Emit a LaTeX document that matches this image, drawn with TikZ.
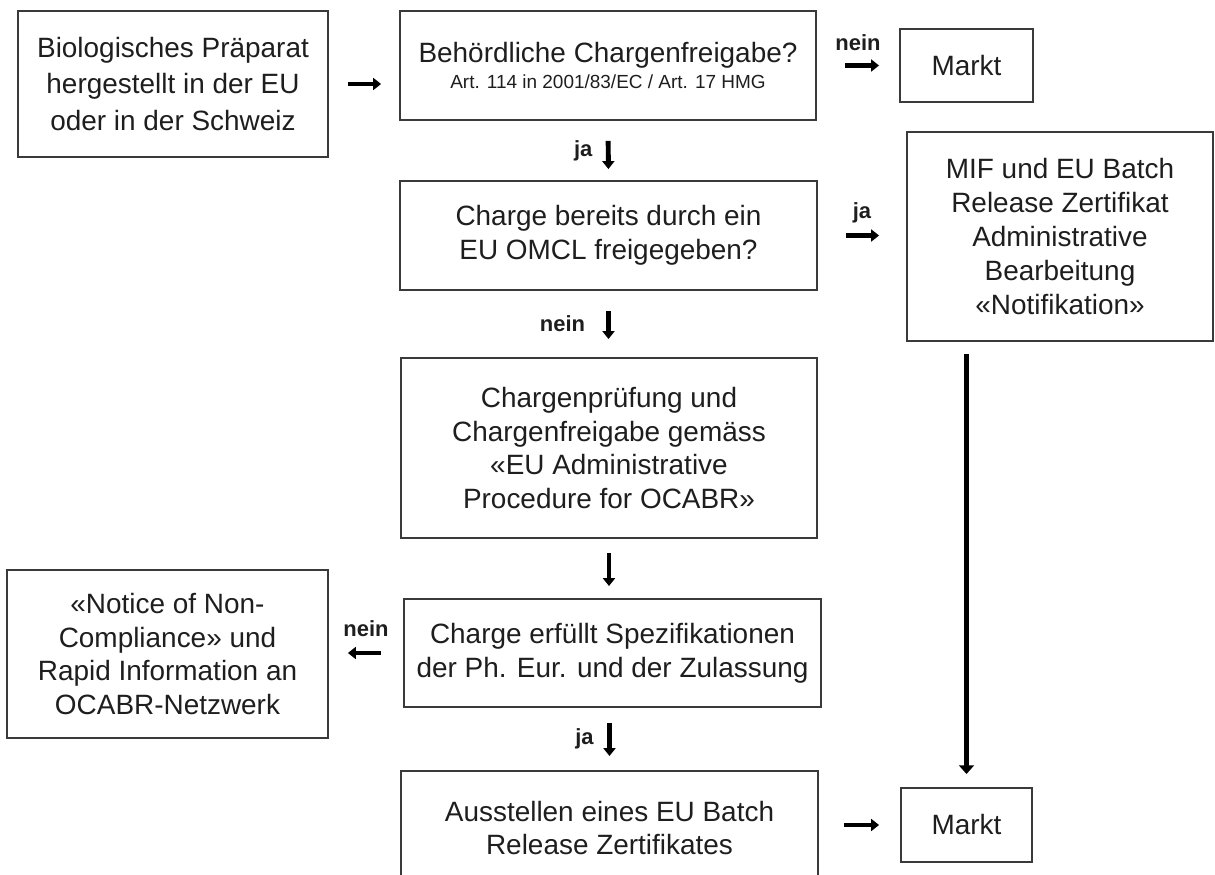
\documentclass[tikz,border=0pt]{standalone}
\usepackage{fontspec}
\setmainfont{Liberation Sans}
\usetikzlibrary{arrows.meta,calc}
\definecolor{rand}{HTML}{3A3A3A}
\definecolor{schrift}{HTML}{1E1E1E}
\tikzset{
    kasten/.style={draw=rand,line width=1.1pt,align=center,inner sep=0pt,text=schrift,font=\fontsize{15.9}{19.3}\selectfont},
    pfeil/.style={line width=2.8pt,-{Triangle[length=4.5pt,width=6.8pt]}},
    langpfeil/.style={line width=3.3pt,-{Triangle[length=5pt,width=8.5pt]}},
    antwort/.style={font=\fontsize{12.5}{14}\selectfont\bfseries,text=schrift,inner sep=0pt},
}

\begin{document}
\begin{tikzpicture}[x=0.02cm,y=-0.02cm]
            \useasboundingbox (0,0) rectangle (1215,875);
            \node[kasten,minimum width=6.2cm,minimum height=2.92cm,font=\fontsize{15.9}{20.8}\selectfont] (praeparat) at (173,84) {Biologisches Präparat\\hergestellt in der EU\\oder in der Schweiz};
            \node[kasten,minimum width=8.32cm,minimum height=2.18cm] (behoerde) at (608,65.5) {Behördliche Chargenfreigabe?\\[-4pt]{\fontsize{10.8}{12}\selectfont Art. 114 in 2001/83/EC / Art. 17 HMG}};
            \node[kasten,minimum width=2.66cm,minimum height=1.46cm] (markt1) at (966.5,65.5) {Markt};
            \node[kasten,minimum width=8.34cm,minimum height=2.18cm] (omcl) at (608.5,235.5) {Charge bereits durch ein\\EU OMCL freigegeben?};
            \node[kasten,minimum width=6.12cm,minimum height=4.18cm] (mif) at (1060,236.5) {MIF und EU Batch\\Release Zertifikat\\Administrative\\Bearbeitung\\«Notifikation»};
            \node[kasten,minimum width=8.32cm,minimum height=3.6cm] (pruefung) at (609,448) {Chargenprüfung und\\Chargenfreigabe gemäss\\«EU Administrative\\Procedure for OCABR»};
            \node[kasten,minimum width=8.34cm,minimum height=2.16cm] (spezifik) at (612.5,653) {Charge erfüllt Spezifikationen\\der Ph. Eur. und der Zulassung};
            \node[kasten,minimum width=6.42cm,minimum height=3.36cm] (notice) at (167.5,654) {«Notice of Non-\\Compliance» und\\Rapid Information an\\OCABR-Netzwerk};
            \node[kasten,minimum width=8.34cm,minimum height=2.28cm] (zertifikat) at (609.5,828) {Ausstellen eines EU Batch\\Release Zertifikates};
            \node[kasten,minimum width=2.62cm,minimum height=1.48cm] (markt2) at (966.5,825) {Markt};

            \draw[pfeil,shorten <=0.38cm,shorten >=0.36cm] (praeparat.east) -- (praeparat.east -| behoerde.west);
            \draw[pfeil,shorten <=0.56cm,shorten >=0.4cm] (behoerde.east) -- (markt1.west) node[antwort,midway,yshift=0.46cm] (nein1) {nein};
            \draw[pfeil,shorten <=0.4cm,shorten >=0.22cm] (behoerde.south) -- (omcl.north) node[antwort,midway,xshift=-0.5cm] (ja1) {ja};
            \draw[pfeil,shorten <=0.56cm,shorten >=0.54cm] (omcl.east) -- (omcl.east -| mif.west) node[antwort,midway,yshift=0.46cm] (ja2) {ja};
            \draw[pfeil,shorten <=0.4cm,shorten >=0.36cm] (omcl.south) -- (omcl.south |- pruefung.north) node[antwort,midway,xshift=-0.92cm] (nein2) {nein};
            \draw[pfeil,shorten <=0.28cm,shorten >=0.24cm] (pruefung.south) -- (pruefung.south |- spezifik.north);
            \draw[pfeil,shorten <=0.44cm,shorten >=0.38cm] (spezifik.west) -- (spezifik.west -| notice.east) node[antwort,midway,yshift=0.48cm] (nein3) {nein};
            \draw[pfeil,shorten <=0.3cm,shorten >=0.28cm] (zertifikat.north |- spezifik.south) -- (zertifikat.north) node[antwort,midway,xshift=-0.5cm] (ja3) {ja};
            \draw[pfeil,shorten <=0.5cm,shorten >=0.42cm] (markt2.west -| zertifikat.east) -- (markt2.west);
            \draw[langpfeil,shorten <=0.24cm,shorten >=0.26cm] (mif.south -| markt2.north) -- (markt2.north);
        \end{tikzpicture}
\end{document}
